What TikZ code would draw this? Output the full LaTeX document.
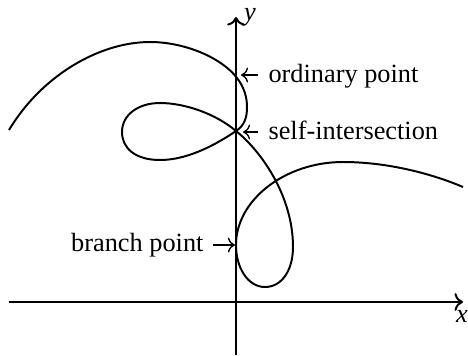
\documentclass[tikz,border=0pt]{standalone}
\usepackage{fontspec}
\setmainfont{Liberation Serif}
\usetikzlibrary{arrows.meta,calc,positioning}

\begin{document}
\begin{tikzpicture}[x=0.38pt,y=-0.38pt]
      \useasboundingbox (0,0) rectangle (468,355);
      % axes
      \coordinate (xs) at (9,302);
      \coordinate (xe) at (463,302);
      \coordinate (ys) at (236,355);
      \coordinate (ye) at (236,17);
      \draw[line width=0.75pt,->] (xs) -- (xe);
      \draw[line width=0.75pt,->] (ys) -- (ye);
      \node (xl) at (462,316) {\textit{x}};
      \node (yl) at (250,17) {\textit{y}};
      % the curve
      \draw[line width=0.75pt] (9,130)
        .. controls (42,75) and (100,42) .. (150,42)
        .. controls (185,42) and (222,58) .. (237,78)
        .. controls (244,87) and (247,97) .. (247,107)
        .. controls (247,117) and (245,125) .. (236,131)
        .. controls (205,152) and (180,160) .. (160,160)
        .. controls (135,160) and (122,148) .. (122,132)
        .. controls (122,115) and (138,103) .. (160,103)
        .. controls (185,103) and (216,114) .. (236,131)
        .. controls (260,150) and (293,195) .. (293,247)
        .. controls (293,270) and (282,287) .. (265,287)
        .. controls (248,287) and (236,268) .. (236,245)
        .. controls (236,200) and (285,162) .. (343,162)
        .. controls (390,162) and (435,175) .. (463,187);
      % labels
      \node[anchor=base west, inner sep=0pt] (ordinary) at (268,82) {ordinary point};
      \node[anchor=base west, inner sep=0pt] (selfint) at (268,139) {self-intersection};
      \node[anchor=base east, inner sep=0pt] (branch) at (204,251) {branch point};
      \coordinate (ordA) at (258,75);
      \coordinate (ordB) at (241,75);
      \coordinate (selA) at (258,132);
      \coordinate (selB) at (243,132);
      \coordinate (brA) at (213,245);
      \coordinate (brB) at (235,245);
      \draw[line width=0.5pt,->] (ordA) -- (ordB);
      \draw[line width=0.5pt,->] (selA) -- (selB);
      \draw[line width=0.5pt,->] (brA) -- (brB);
\end{tikzpicture}
\end{document}
